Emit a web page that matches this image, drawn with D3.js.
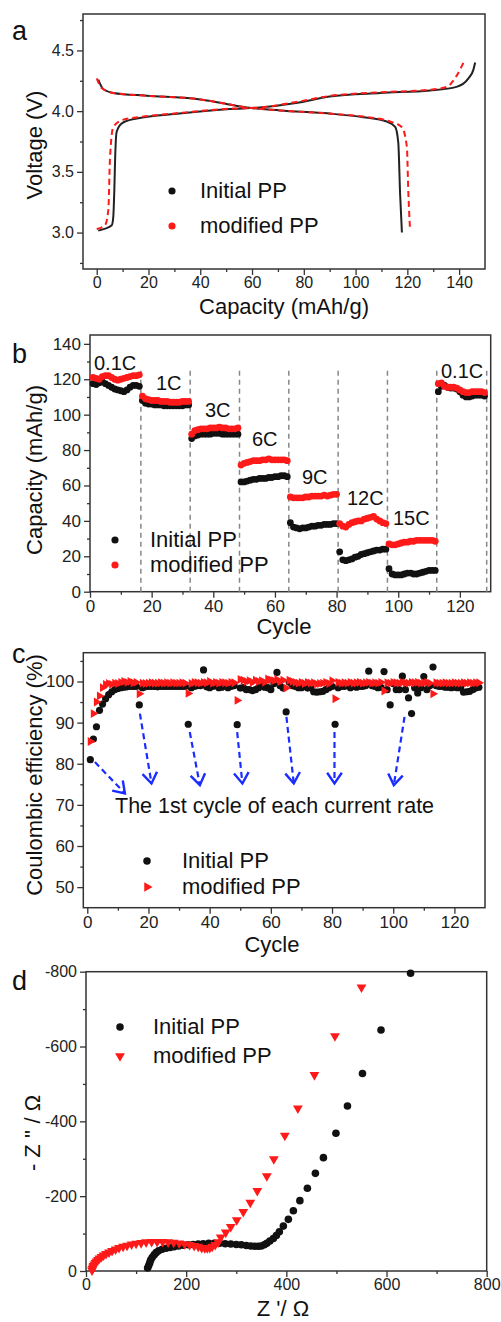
<!DOCTYPE html>
<html><head><meta charset="utf-8">
<script src="https://cdn.jsdelivr.net/npm/d3@7/dist/d3.min.js"></script>
<style>
body{margin:0;background:#fff;}
svg{display:block;font-family:"Liberation Sans",Arial,sans-serif;}
</style></head>
<body><svg id="c" width="501" height="1322"></svg>
<script>
// ---------- Panel a: charge/discharge curves (capacity mAh/g, voltage V)
const aInitCharge = [[0.6,3.016],[3,3.03],[5.8,3.06],[6.4,3.13],[6.8,3.35],[7.1,3.6],[7.7,3.83],[9.7,3.9],[15.5,3.94],[32,3.98],[51.5,4.017],[63,4.03],[77,4.067],[90,4.12],[109.5,4.15],[128.8,4.17],[139,4.2],[143.6,4.27],[145.5,4.34],[146.2,4.4]];
const aInitDischarge = [[0.6,4.26],[2.6,4.18],[6.4,4.15],[19.3,4.127],[38.6,4.1],[47.6,4.07],[58,4.03],[70.8,4.006],[90,3.98],[103,3.95],[112,3.915],[115.3,3.87],[116.5,3.74],[117.2,3.32],[117.9,3.0]];
const aModCharge = [[0,3.03],[3.2,3.06],[4.5,3.19],[5.1,3.6],[6.4,3.87],[10.3,3.93],[16,3.95],[32,3.985],[51.5,4.02],[63,4.03],[77,4.075],[90,4.125],[109.5,4.155],[128,4.175],[135.2,4.2],[139,4.29],[141.7,4.4]];
const aModDischarge = [[0,4.27],[1.9,4.19],[6.4,4.15],[19.3,4.127],[38.6,4.1],[47.6,4.07],[58,4.03],[70.8,4.006],[90,3.98],[103,3.955],[113.3,3.915],[117.8,3.87],[119.8,3.71],[120.4,3.32],[121,3.04]];
const aXTicks = [0,20,40,60,80,100,120,140];
const aYTicks = [3.0,3.5,4.0,4.5];

// ---------- Panel b: rate capability (cycle, capacity)
const bRates = ["0.1C","1C","3C","6C","9C","12C","15C","0.1C"];
const bBoundaries = [16.5,32.5,48.5,64.5,80.5,96.5,112.5,128.7];
const bInitial = [
 117.5,117,118,118.5,117.5,116.5,115.5,114.5,114,113.5,113,114,115.5,116.5,116.5,116,
 108,106.5,106,106,105.5,105.5,105.5,105,105,105,105,105,105,105,105.5,105.5,
 86.5,88,88.5,89,89,89,89,89.5,89.5,89.5,89,89,89,89,89,89,
 62,62,62.5,63,63.5,63.5,64,64,64,64.5,64.5,65,65,65.5,65.5,65,
 39,36.5,36,35.5,36,36,36.5,37,37,37.5,37.5,38,38,38,38.5,38.5,
 22.5,18,17.5,18,18.5,19.5,20,21,21.5,22,22.5,23,23.5,23.5,24,24,
 13,10,9.5,9.5,9.5,10,10.5,10.5,10,10,10.5,11,11.5,12,12,12,
 113,116,116.5,115.5,115,115,114.5,113,111,110,110,110.5,111,111,111,110.5];
const bModified = [
 121,120.5,120,121.5,122,122,121,120,119.5,120,120.5,121,121.5,122,122,122.5,
 110.5,109,108.5,108,108,108,107.5,107.5,107.5,107,107,107,107,107.5,107.5,107.5,
 89,91,91.5,92,92,92,92.5,92.5,92.5,93,92.5,92.5,92,92,92,92.5,
 71.5,72.5,73,73.5,74,74,74,74.5,74.5,75,74.5,74.5,74.5,74.5,74.5,74,
 53.5,53,53,53,53,53.5,53.5,54,54,54,54,54.5,54,54.5,55,55,
 38.5,37,36.5,38,39,39.5,40,40,41,41.5,42,42.5,41,40,39,38.5,
 27,26.5,26.5,27,27.5,28,28,28.5,28.5,29,29,29,29,29,29,28.5,
 117.5,118,116,115.5,115.5,115.5,115,114,113,112.5,112.5,113,113,113,113,112.5];
const bXTicks = [0,20,40,60,80,100,120];
const bYTicks = [0,20,40,60,80,100,120,140];

// ---------- Panel c: coulombic efficiency (cycle, %)
const cInitial = [
 81,86,89,93,94.5,95.8,96.8,97.5,98,98.3,98.5,98.6,98.7,98.8,98.8,98.8,
 94.3,98.5,98.7,98.8,98.8,98.8,98.7,98.8,98.8,98.8,98.8,98.8,98.8,98.8,98.8,98.8,
 89.6,98.5,98.8,99,99,102.8,98.7,98.5,98.8,99,98.5,98.6,99,98.5,98.8,99,
 89.5,98.4,98.5,98,98,97.8,98,98.5,99,98.6,98.5,98,99.5,102.2,99,98.4,
 92.6,99.8,99,98.8,98.5,98.5,98.8,98.4,98.5,97.5,97.4,97.5,97.6,98,98.5,98.8,
 89.6,98.5,98.8,98.8,99,98.5,98.8,98.6,98.8,98.8,99,102.5,99,98.8,98.5,98.6,
 102.4,98,94.3,99.5,98,98,101.3,98,96,92.2,98.5,97.2,98.5,101.2,98,99,
 103.5,99,98.8,98.8,98.6,98.6,98.5,98.6,98.5,98.5,97.4,97.5,97.6,98,98.4,98.6];
const cModified = [
 85.4,92.2,95,96.5,98.5,99.3,99.5,99.3,99.6,99.5,99.8,100,99.8,100,99.7,99.8,
 97,99.6,99.5,99.6,99.7,99.6,99.6,99.7,99.6,99.7,99.6,99.7,99.6,99.6,99.7,99.6,
 97.1,99.5,99.8,99.7,99.6,99.8,99.7,100,99.6,99.8,99.6,99.8,99.7,99.6,99.8,99.7,
 95.4,100.5,100.3,100,100.2,99.8,100.3,100,100.2,99.8,100.6,100.4,100.2,100.5,100,100.3,
 98.4,100.3,100,99.8,99.6,99.8,99.5,99.8,99.6,99.7,99.4,99.5,99.6,99.8,99.5,100.2,
 95.8,99.8,99.6,99.7,99.6,99.8,99.6,99.7,99.8,99.6,99.7,99.8,99.6,99.7,99.6,99.8,
 97.7,99.7,99.6,99.8,99.7,99.6,99.8,99.7,99.6,99.8,99.7,99.8,99.6,99.7,99.8,99.6,
 97,99.7,99.6,99.6,99.7,99.6,99.6,99.7,99.6,99.6,99.7,99.6,99.7,99.6,99.7,99.7];
const cArrowFrom = [[2.5,80.4],[17.2,92.2],[33.5,87.7],[49,87.7],[65.1,91.4],[80.8,87.7],[103.7,91.4]];
const cArrowTo   = [[12.3,72.8],[21,75.2],[36.8,74.8],[50.7,75.2],[67.5,75.2],[80.8,75.2],[100.2,74.8]];
const cNote = "The 1st cycle of each current rate";
const cXTicks = [0,20,40,60,80,100,120];
const cYTicks = [50,60,70,80,90,100];

// ---------- Panel d: Nyquist plot (Z', -Z'')
const dInitX = [123,125,127,129,132,136,140,145,152,160,168,176,185,194,204,214,224,234,245,256,267,278,289,300,310,320,329,337,344,350,356,361,367,374,380,386,394,404,414,427,442,458,474,499,522,552,589,648];
const dInitY = [8,14,21,29,36,43,49,54,58,61,63,65,67,69,70,71,72,73,74,74,74,73,72,71,70,68,67,66,66,67,70,74,80,87,95,105,120,138,161,188,221,261,303,368,441,528,644,796];
const dModX = [12,13,14,15,17,19,21,24,27,31,35,40,46,52,59,66,74,82,91,100,110,120,131,142,153,164,175,186,197,207,216,224,231,237,242,247,252,258,264,269,279,289,301,314,328,342,361,375,397,423,456,497,550];
const dModY = [2,6,10,14,18,22,26,30,34,38,42,46,50,54,58,62,65,68,71,73,75,77,78,78,78,77,76,74,72,70,67,65,62,61,61,62,65,70,77,90,103,118,136,158,183,214,254,299,362,435,524,628,758];
const dXTicks = [0,200,400,600,800];
const dYTicks = [0,200,400,600,800];

const legendNames = ["Initial PP","modified PP"];
const RED = "#ff1a1a", BLK = "#111", AXIS = "#333";

const svg = d3.select("#c");
svg.append("rect").attr("width",501).attr("height",1322).attr("fill","#fff");

function frame(g, x, y, cfg){
  const [x0,x1] = x.range(), [y0,y1] = y.range();
  const xa = g.append("g").attr("transform",`translate(0,${y0})`)
    .call(d3.axisBottom(x).tickValues(cfg.xMinor).tickSize(3).tickFormat(""));
  const xb = g.append("g").attr("transform",`translate(0,${y0})`)
    .call(d3.axisBottom(x).tickValues(cfg.xTicks).tickSize(6).tickPadding(2).tickFormat(cfg.xFmt||(d=>d)));
  const ya = g.append("g").attr("transform",`translate(${x0},0)`)
    .call(d3.axisLeft(y).tickValues(cfg.yMinor).tickSize(3).tickFormat(""));
  const yb = g.append("g").attr("transform",`translate(${x0},0)`)
    .call(d3.axisLeft(y).tickValues(cfg.yTicks).tickSize(6).tickPadding(3).tickFormat(cfg.yFmt||(d=>d)));
  [xa,xb,ya,yb].forEach(a=>{
    a.select(".domain").remove();
    a.selectAll("line").attr("stroke",AXIS).attr("stroke-width",1.3);
    a.selectAll("text").attr("fill","#222").style("font-size",cfg.fs+"px").style("font-family","Liberation Sans, Arial, sans-serif");
  });
  g.append("rect").attr("x",x0).attr("y",y1).attr("width",x1-x0).attr("height",y0-y1)
    .attr("fill","none").attr("stroke",AXIS).attr("stroke-width",1.5);
}
function titles(g, xt, xtx, xty, yt, ytx, yty, letter, lx, ly){
  g.append("text").attr("x",xtx).attr("y",xty).attr("text-anchor","middle").style("font-size","22px").attr("fill","#111").text(xt);
  g.append("text").attr("transform",`translate(${ytx},${yty}) rotate(-90)`).attr("text-anchor","middle").style("font-size","22px").attr("fill","#111").text(yt);
  g.append("text").attr("x",lx).attr("y",ly).style("font-size","27px").attr("fill","#111").text(letter);
}
function legend(g, x, y1, y2, tx, marks){
  const rows = [[y1,BLK,marks[0]],[y2,RED,marks[1]]];
  rows.forEach((r,i)=>{
    g.append("path").attr("transform",`translate(${x},${r[0]-7}) rotate(${r[2].rot})`)
      .attr("d",d3.symbol().type(r[2].type).size(r[2].size)()).attr("fill",r[1]);
    g.append("text").attr("x",tx).attr("y",r[0]).style("font-size","22px").attr("fill","#111").text(legendNames[i]);
  });
}
const dot = {type:d3.symbolCircle,size:40,rot:0};

// ===== Panel a
{
  const g = svg.append("g");
  const x = d3.scaleLinear().domain([-5.3,150]).range([83,485]);
  const y = d3.scaleLinear().domain([2.7,4.8]).range([269,14]);
  frame(g,x,y,{xTicks:aXTicks,xMinor:[10,30,50,70,90,110,130],yTicks:aYTicks,yMinor:[2.75,3.25,3.75,4.25,4.75],fs:16,yFmt:d3.format(".1f")});
  const line = d3.line().x(d=>x(d[0])).y(d=>y(d[1])).curve(d3.curveMonotoneX);
  [aInitCharge,aInitDischarge].forEach(s=>g.append("path").attr("d",line(s)).attr("fill","none").attr("stroke","#222").attr("stroke-width",2));
  [aModCharge,aModDischarge].forEach(s=>g.append("path").attr("d",line(s)).attr("fill","none").attr("stroke",RED).attr("stroke-width",2).attr("stroke-dasharray","6,4"));
  legend(g,172,198,233,200,[dot,dot]);
  titles(g,"Capacity (mAh/g)",284,314,"Voltage (V)",42,145,"a",12,40);
}
// ===== Panel b
{
  const g = svg.append("g");
  const x = d3.scaleLinear().domain([0,130]).range([90,490.7]);
  const y = d3.scaleLinear().domain([0,145]).range([591.7,335]);
  frame(g,x,y,{xTicks:bXTicks,xMinor:[10,30,50,70,90,110],yTicks:bYTicks,yMinor:[10,30,50,70,90,110,130],fs:17});
  bBoundaries.forEach(c=>g.append("line").attr("x1",x(c)).attr("x2",x(c)).attr("y1",y(0)).attr("y2",y(126))
    .attr("stroke","#888").attr("stroke-width",1.5).attr("stroke-dasharray","5,4"));
  g.selectAll(".bi").data(bInitial).join("circle").attr("cx",(d,i)=>x(i+1)).attr("cy",d=>y(d)).attr("r",3.4).attr("fill",BLK);
  g.selectAll(".bm").data(bModified).join("circle").attr("cx",(d,i)=>x(i+1)).attr("cy",d=>y(d)).attr("r",3.4).attr("fill",RED);
  const labelPos = [[94,370],[156,390],[205,417],[252,446],[302,484],[347,505],[393,525],[441,378]];
  bRates.forEach((t,i)=>g.append("text").attr("x",labelPos[i][0]).attr("y",labelPos[i][1]).style("font-size","20px").attr("fill","#111").text(t));
  legend(g,115,547,572,150,[dot,dot]);
  titles(g,"Cycle",284,634,"Capacity (mAh/g)",42,470,"b",12,363);
}
// ===== Panel c
{
  const g = svg.append("g");
  const x = d3.scaleLinear().domain([-1.3,130]).range([83.3,485]);
  const y = d3.scaleLinear().domain([45,107]).range([907.7,652.7]);
  frame(g,x,y,{xTicks:cXTicks,xMinor:[10,30,50,70,90,110],yTicks:cYTicks,yMinor:[55,65,75,85,95,105],fs:17});
  g.selectAll(".ci").data(cInitial).join("circle").attr("cx",(d,i)=>x(i+1)).attr("cy",d=>y(d)).attr("r",3.6).attr("fill",BLK);
  const tri = d3.symbol().type(d3.symbolTriangle).size(34)();
  g.selectAll(".cm").data(cModified).join("path").attr("d",tri)
    .attr("transform",(d,i)=>`translate(${x(i+1)},${y(d)}) rotate(90)`).attr("fill",RED);
  cArrowFrom.forEach((p,i)=>{
    const q = cArrowTo[i];
    const x1=x(p[0]),y1=y(p[1]),x2=x(q[0]),y2=y(q[1]);
    g.append("line").attr("x1",x1).attr("y1",y1).attr("x2",x2).attr("y2",y2)
      .attr("stroke","#1a2cff").attr("stroke-width",2.2).attr("stroke-dasharray","6,4");
    const ang = Math.atan2(y2-y1,x2-x1), L=13, h=0.6;
    const pts = [[x2-L*Math.cos(ang-h),y2-L*Math.sin(ang-h)],[x2,y2],[x2-L*Math.cos(ang+h),y2-L*Math.sin(ang+h)]];
    g.append("path").attr("d",d3.line()(pts)).attr("fill","none").attr("stroke","#1a2cff").attr("stroke-width",2.4);
  });
  g.append("text").attr("x",115).attr("y",813).style("font-size","21.5px").attr("fill","#111").text(cNote);
  const triR = {type:d3.symbolTriangle,size:40,rot:90};
  legend(g,147,868,894,182,[{type:d3.symbolCircle,size:44,rot:0},triR]);
  titles(g,"Cycle",272,952,"Coulombic efficiency (%)",42,775,"c",12,663);
}
// ===== Panel d
{
  const g = svg.append("g");
  const x = d3.scaleLinear().domain([0,800]).range([86,486.7]);
  const y = d3.scaleLinear().domain([0,800]).range([1271,971.7]);
  frame(g,x,y,{xTicks:dXTicks,xMinor:[100,300,500,700],yTicks:dYTicks,yMinor:[100,300,500,700],fs:16,yFmt:d=>d===0?"0":"-"+d});
  g.selectAll(".di").data(dInitX).join("circle").attr("cx",d=>x(d)).attr("cy",(d,i)=>y(dInitY[i])).attr("r",3.8).attr("fill",BLK);
  const tri = d3.symbol().type(d3.symbolTriangle).size(42)();
  g.selectAll(".dm").data(dModX).join("path").attr("d",tri)
    .attr("transform",(d,i)=>`translate(${x(d)},${y(dModY[i])}) rotate(180)`).attr("fill",RED);
  legend(g,120,1034,1063,153,[{type:d3.symbolCircle,size:44,rot:0},{type:d3.symbolTriangle,size:42,rot:180}]);
  titles(g,"Z '/ Ω",283,1316,"- Z '' / Ω",40,1133,"d",12,990);
}
</script></body></html>
